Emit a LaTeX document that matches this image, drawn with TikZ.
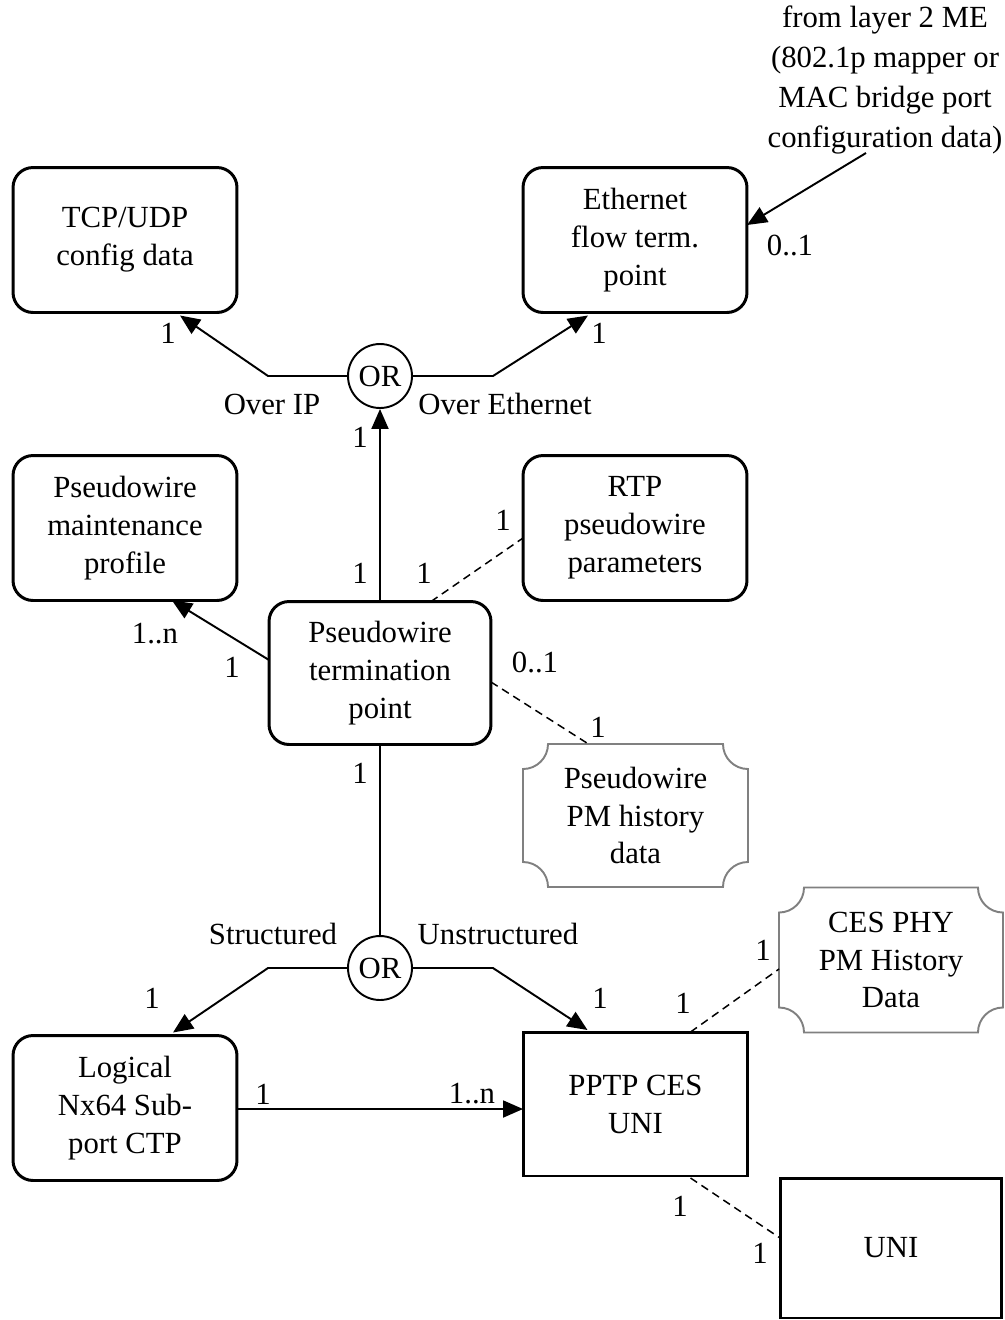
\documentclass[tikz,border=0pt]{standalone}
\usepackage{fontspec}
\setmainfont{Liberation Serif}
\usetikzlibrary{arrows.meta,calc}
\begin{document}
\begin{tikzpicture}[x=0.02cm,y=-0.02cm,
  every node/.style={font=\fontsize{17.5}{21.6}\selectfont},
  box/.style={draw,line width=1.7pt,rounded corners=0.4cm,minimum width=4.48cm,
    minimum height=2.9cm,align=center,inner sep=0pt,outer sep=0pt},
  sqbox/.style={box,rounded corners=0pt},
  pmbox/.style={minimum width=4.5cm,minimum height=2.86cm,align=center,
    inner sep=0pt,outer sep=0pt},
  ornode/.style={draw,circle,line width=1.1pt,minimum size=1.28cm,inner sep=0pt},
  conn/.style={line width=1.1pt},
  arr/.style={conn,-{Triangle[length=0.4cm,width=0.34cm]}},
  dashline/.style={line width=0.85pt,dash pattern=on 4.5pt off 3pt},
  greyline/.style={draw=gray,line width=1.1pt},
  lbl/.style={inner sep=0pt}
]
\useasboundingbox (0,0) rectangle (1005,1320);

% concave-cornered outline around a node
\def\pmoutline#1{%
  \draw[greyline] ($(#1.north west)+(25,0)$) -- ($(#1.north east)+(-25,0)$)
    arc[start angle=180,end angle=270,radius=0.5cm]
    -- ($(#1.south east)+(0,-25)$)
    arc[start angle=90,end angle=180,radius=0.5cm]
    -- ($(#1.south west)+(25,0)$)
    arc[start angle=0,end angle=90,radius=0.5cm]
    -- ($(#1.north west)+(0,25)$)
    arc[start angle=270,end angle=360,radius=0.5cm] -- cycle;}

% boxes
\node[box] (tcp) at (125,240) {TCP/UDP\\config data};
\node[box] (eth) at (635,240) {Ethernet\\flow term.\\point};
\node[box] (pmp) at (125,528) {Pseudowire\\maintenance\\profile};
\node[box] (rtp) at (635,528) {RTP\\pseudowire\\parameters};
\node[box,minimum width=4.44cm,minimum height=2.86cm] (ptp) at (380,673)
  {Pseudowire\\termination\\point};
\node[pmbox] (pmh) at (635.5,815.5) {Pseudowire\\PM history\\data};
\node[pmbox,minimum width=4.48cm,minimum height=2.9cm] (ces) at (891,960)
  {CES PHY\\PM History\\Data};
\node[box] (lnc) at (125,1108) {Logical\\Nx64 Sub-\\port CTP};
\node[sqbox,minimum width=4.5cm,minimum height=2.88cm] (pptp) at (635.5,1104)
  {PPTP CES\\UNI};
\node[sqbox,minimum width=4.44cm,minimum height=2.8cm] (uni) at (891,1248) {UNI};
\pmoutline{pmh}
\pmoutline{ces}

% OR junctions
\node[ornode] (or1) at (380,376) {OR};
\node[ornode] (or2) at (380,968) {OR};

% external source
\node[align=center,font=\fontsize{17.5}{22.7}\selectfont] (ext) at (885,80)
  {from layer 2 ME\\(802.1p mapper or\\MAC bridge port\\configuration data)};
\coordinate (extsrc) at (866,153);

% connectors
\draw[arr] (or1.west) -- ++(-79,0) -- ($(tcp.south)+(55,3)$);
\draw[arr] (or1.east) -- ++(80,0) -- ($(eth.south)+(-47,3)$);
\draw[arr] (ptp.north) -- (or1.south);
\draw[arr] (extsrc) -- ($(eth.east)+(0,-15)$);
\draw[arr] ($(ptp.west)+(0,-13)$) -- ($(pmp.south)+(47,0)$);
\draw[dashline] ($(ptp.north)+(51,0)$) -- ($(rtp.west)+(0,10)$);
\draw[dashline] ($(ptp.east)+(0,9)$) -- ($(pmh.north)+(-47,0)$);
\draw[conn] (ptp.south) -- (or2.north);
\draw[arr] (or2.west) -- ++(-79,0) -- ($(lnc.north)+(48,-3)$);
\draw[arr] (or2.east) -- ++(80,0) -- ($(pptp.north)+(-48,-2)$);
\draw[arr] ($(lnc.east)+(0,1)$) -- ($(pptp.west)+(0,5)$);
\draw[dashline] ($(pptp.north)+(55,0)$) -- ($(ces.west)+(0,9)$);
\draw[dashline] ($(pptp.south)+(55,2)$) -- ($(uni.west)+(0,-10)$);

% multiplicities and labels
\node[lbl] at (168,333) {1};
\node[lbl] at (599,333) {1};
\node[lbl] at (790,245) {0..1};
\node[lbl] at (272,404) {Over IP};
\node[lbl] at (505,404) {Over Ethernet};
\node[lbl] at (360,437) {1};
\node[lbl] at (503,520) {1};
\node[lbl] at (360,573) {1};
\node[lbl] at (424,573) {1};
\node[lbl] at (155,634) {1..n};
\node[lbl] at (232,667) {1};
\node[lbl] at (535,662) {0..1};
\node[lbl] at (598,727) {1};
\node[lbl] at (360,773) {1};
\node[lbl] at (273,934) {Structured};
\node[lbl] at (498,934) {Unstructured};
\node[lbl] at (763,950) {1};
\node[lbl] at (152,998) {1};
\node[lbl] at (600,998) {1};
\node[lbl] at (683,1003) {1};
\node[lbl] at (263,1094) {1};
\node[lbl] at (472,1094) {1..n};
\node[lbl] at (680,1206) {1};
\node[lbl] at (760,1253) {1};
\end{tikzpicture}
\end{document}
